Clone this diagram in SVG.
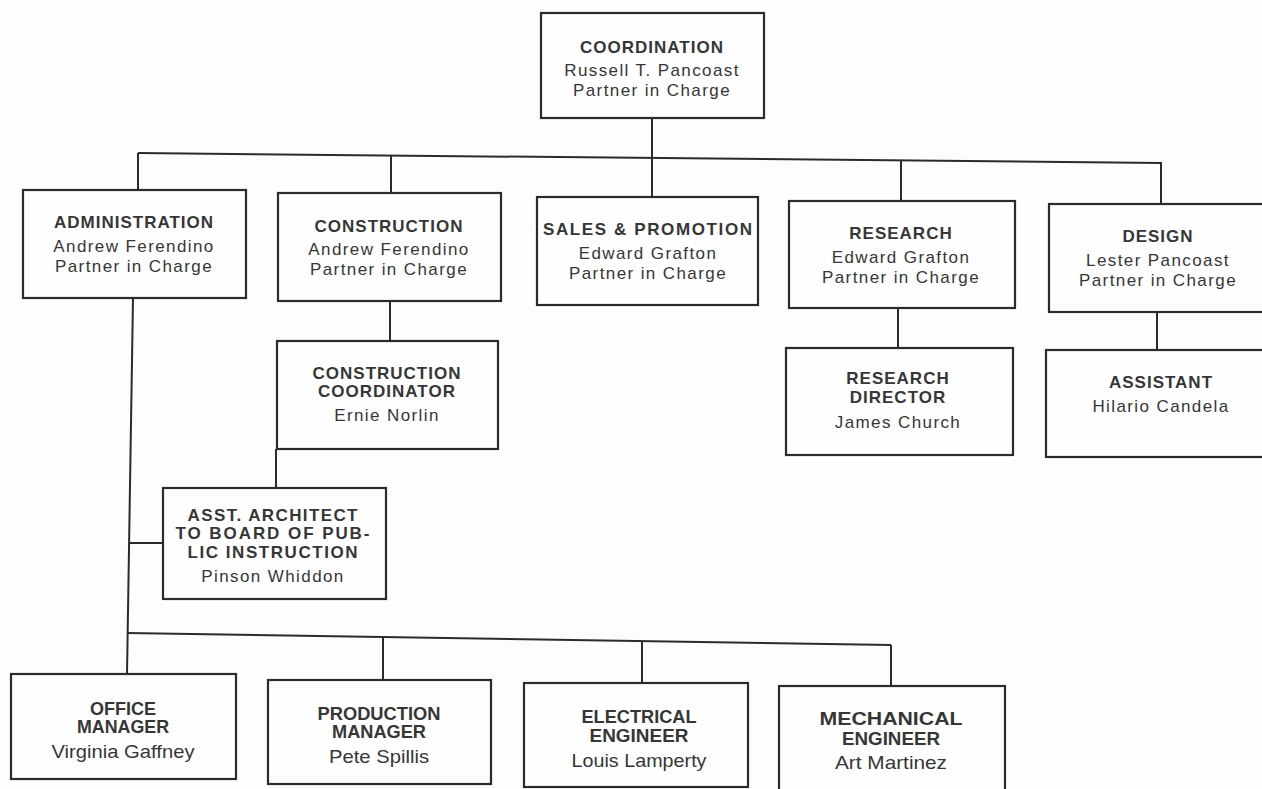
<svg xmlns="http://www.w3.org/2000/svg" width="1262" height="789" viewBox="0 0 1262 789">
<style>
.bg{fill:#fdfdfb}
.box{fill:#fefefe;stroke:#2b2b2b;stroke-width:2.2}
.ln{fill:none;stroke:#2b2b2b;stroke-width:2}
text{fill:#363636;text-anchor:middle}
.t{font-family:"Liberation Sans",Arial,sans-serif;font-weight:bold;font-size:17px;letter-spacing:1px}
.n{font-family:"Liberation Sans",Arial,sans-serif;font-size:17px;letter-spacing:1.4px}
.ct{font-family:"Liberation Sans",Arial,sans-serif;font-weight:bold;font-size:18px}
.cn{font-family:"Liberation Sans",Arial,sans-serif;font-size:19px}
</style>
<rect class="bg" x="0" y="0" width="1262" height="789"/>
<g id="connectors">
<path class="ln" d="M652 118 V157"/>
<path class="ln" d="M138 153 L1162 163"/>
<path class="ln" d="M138 153 V191"/>
<path class="ln" d="M391 155.5 V194"/>
<path class="ln" d="M652 157 V197"/>
<path class="ln" d="M901 160 V201"/>
<path class="ln" d="M1161 163 V204"/>
<path class="ln" d="M390 301 V341"/>
<path class="ln" d="M276 449 V488"/>
<path class="ln" d="M133 298 L127 674"/>
<path class="ln" d="M130 543 H163"/>
<path class="ln" d="M127 633 L891 645"/>
<path class="ln" d="M383 637 V680"/>
<path class="ln" d="M642 641 V683"/>
<path class="ln" d="M891 645 V686"/>
<path class="ln" d="M898 309 V348"/>
<path class="ln" d="M1157 312 V350"/>
</g>
<g id="coordination">
<rect class="box" x="541" y="13" width="223" height="105"/>
<text class="t" x="652" y="53">COORDINATION</text>
<text class="n" x="652" y="76">Russell T. Pancoast</text>
<text class="n" x="652" y="96">Partner in Charge</text>
</g>
<g id="administration">
<rect class="box" x="23" y="190" width="223" height="108"/>
<text class="t" x="134" y="228">ADMINISTRATION</text>
<text class="n" x="134" y="252">Andrew Ferendino</text>
<text class="n" x="134" y="272">Partner in Charge</text>
</g>
<g id="construction">
<rect class="box" x="278" y="193" width="223" height="108"/>
<text class="t" x="389" y="232">CONSTRUCTION</text>
<text class="n" x="389" y="255">Andrew Ferendino</text>
<text class="n" x="389" y="275">Partner in Charge</text>
</g>
<g id="sales">
<rect class="box" x="537" y="197" width="221" height="108"/>
<text class="t" x="648" y="235" textLength="210">SALES &amp; PROMOTION</text>
<text class="n" x="648" y="259">Edward Grafton</text>
<text class="n" x="648" y="279">Partner in Charge</text>
</g>
<g id="research">
<rect class="box" x="789" y="201" width="226" height="107"/>
<text class="t" x="901" y="239">RESEARCH</text>
<text class="n" x="901" y="263">Edward Grafton</text>
<text class="n" x="901" y="283">Partner in Charge</text>
</g>
<g id="design">
<rect class="box" x="1049" y="204" width="225" height="108"/>
<text class="t" x="1158" y="242">DESIGN</text>
<text class="n" x="1158" y="266">Lester Pancoast</text>
<text class="n" x="1158" y="286">Partner in Charge</text>
</g>
<g id="construction-coordinator">
<rect class="box" x="277" y="341" width="221" height="108"/>
<text class="t" x="387" y="379">CONSTRUCTION</text>
<text class="t" x="387" y="397">COORDINATOR</text>
<text class="n" x="387" y="421">Ernie Norlin</text>
</g>
<g id="asst-architect">
<rect class="box" x="163" y="488" width="223" height="111"/>
<text class="t" x="273" y="521" textLength="171">ASST. ARCHITECT</text>
<text class="t" x="273" y="539" textLength="195">TO BOARD OF PUB-</text>
<text class="t" x="273" y="558" textLength="171">LIC INSTRUCTION</text>
<text class="n" x="273" y="582">Pinson Whiddon</text>
</g>
<g id="research-director">
<rect class="box" x="786" y="348" width="227" height="107"/>
<text class="t" x="898" y="384">RESEARCH</text>
<text class="t" x="898" y="403">DIRECTOR</text>
<text class="n" x="898" y="428">James Church</text>
</g>
<g id="assistant">
<rect class="box" x="1046" y="350" width="228" height="107"/>
<text class="t" x="1161" y="388">ASSISTANT</text>
<text class="n" x="1161" y="412">Hilario Candela</text>
</g>
<g id="office-manager">
<rect class="box" x="11" y="674" width="225" height="105"/>
<text class="ct" x="123" y="715" textLength="66" lengthAdjust="spacingAndGlyphs">OFFICE</text>
<text class="ct" x="123" y="733" textLength="92" lengthAdjust="spacingAndGlyphs">MANAGER</text>
<text class="cn" x="123" y="758" textLength="143" lengthAdjust="spacingAndGlyphs">Virginia Gaffney</text>
</g>
<g id="production-manager">
<rect class="box" x="268" y="680" width="223" height="104"/>
<text class="ct" x="379" y="720" textLength="123" lengthAdjust="spacingAndGlyphs">PRODUCTION</text>
<text class="ct" x="379" y="738" textLength="94" lengthAdjust="spacingAndGlyphs">MANAGER</text>
<text class="cn" x="379" y="763" textLength="100" lengthAdjust="spacingAndGlyphs">Pete Spillis</text>
</g>
<g id="electrical-engineer">
<rect class="box" x="524" y="683" width="224" height="104"/>
<text class="ct" x="639" y="723" textLength="115" lengthAdjust="spacingAndGlyphs">ELECTRICAL</text>
<text class="ct" x="639" y="742" textLength="99" lengthAdjust="spacingAndGlyphs">ENGINEER</text>
<text class="cn" x="639" y="767" textLength="135" lengthAdjust="spacingAndGlyphs">Louis Lamperty</text>
</g>
<g id="mechanical-engineer">
<rect class="box" x="779" y="686" width="226" height="110"/>
<text class="ct" x="891" y="725" textLength="143" lengthAdjust="spacingAndGlyphs">MECHANICAL</text>
<text class="ct" x="891" y="745" textLength="98" lengthAdjust="spacingAndGlyphs">ENGINEER</text>
<text class="cn" x="891" y="769" textLength="112" lengthAdjust="spacingAndGlyphs">Art Martinez</text>
</g>
</svg>
